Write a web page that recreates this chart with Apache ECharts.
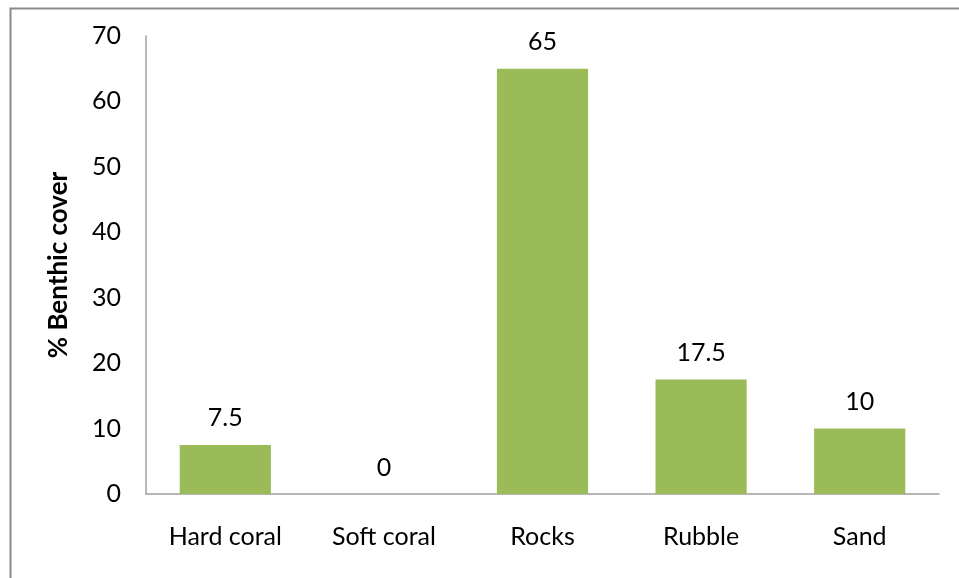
<!DOCTYPE html>
<html>
<head>
<meta charset="utf-8">
<script src="https://cdn.jsdelivr.net/npm/echarts@6/dist/echarts.min.js"></script>
<style>
  html, body { margin: 0; padding: 0; background: #ffffff; }
  #chart { width: 959px; height: 578px; }
</style>
</head>
<body>
<div id="chart"></div>
<script>
// Benthic cover by substrate type
const categories = ['Hard coral', 'Soft coral', 'Rocks', 'Rubble', 'Sand'];
const coverValues = [7.5, 0, 65, 17.5, 10];
const yTicks = { min: 0, max: 70, interval: 10 };

const FONT = 'Lato, "Open Sans", sans-serif';
const chart = echarts.init(document.getElementById('chart'), null, { renderer: 'canvas' });

chart.setOption({
  animation: false,
  backgroundColor: '#ffffff',
  graphic: [{
    type: 'rect',
    left: 8, top: 6,
    shape: { width: 1000, height: 700 },
    style: { fill: 'none', stroke: '#8a8a8a', lineWidth: 2 },
    silent: true
  }],
  grid: { left: 146, right: 20, top: 36, bottom: 84, containLabel: false },
  xAxis: {
    type: 'category',
    data: categories,
    axisLine: { show: true, lineStyle: { color: '#a0a0a0', width: 1.5 } },
    axisTick: { show: false },
    axisLabel: { color: '#000000', fontSize: 25, fontFamily: FONT, margin: 30 }
  },
  yAxis: {
    type: 'value',
    min: yTicks.min, max: yTicks.max, interval: yTicks.interval,
    name: '% Benthic cover',
    nameLocation: 'middle',
    nameGap: 74,
    nameTextStyle: { color: '#000000', fontSize: 26, fontWeight: 'bold', fontFamily: FONT },
    axisLine: { show: true, lineStyle: { color: '#a0a0a0', width: 1.5 } },
    axisTick: { show: false },
    splitLine: { show: false },
    axisLabel: { color: '#000000', fontSize: 25, fontFamily: FONT, margin: 25 }
  },
  series: [{
    type: 'bar',
    data: coverValues,
    barWidth: '57.5%',
    itemStyle: { color: '#9BBB59' },
    label: {
      show: true,
      position: 'top',
      distance: 14,
      color: '#000000',
      fontSize: 25,
      fontFamily: FONT
    }
  }]
});
</script>
</body>
</html>
